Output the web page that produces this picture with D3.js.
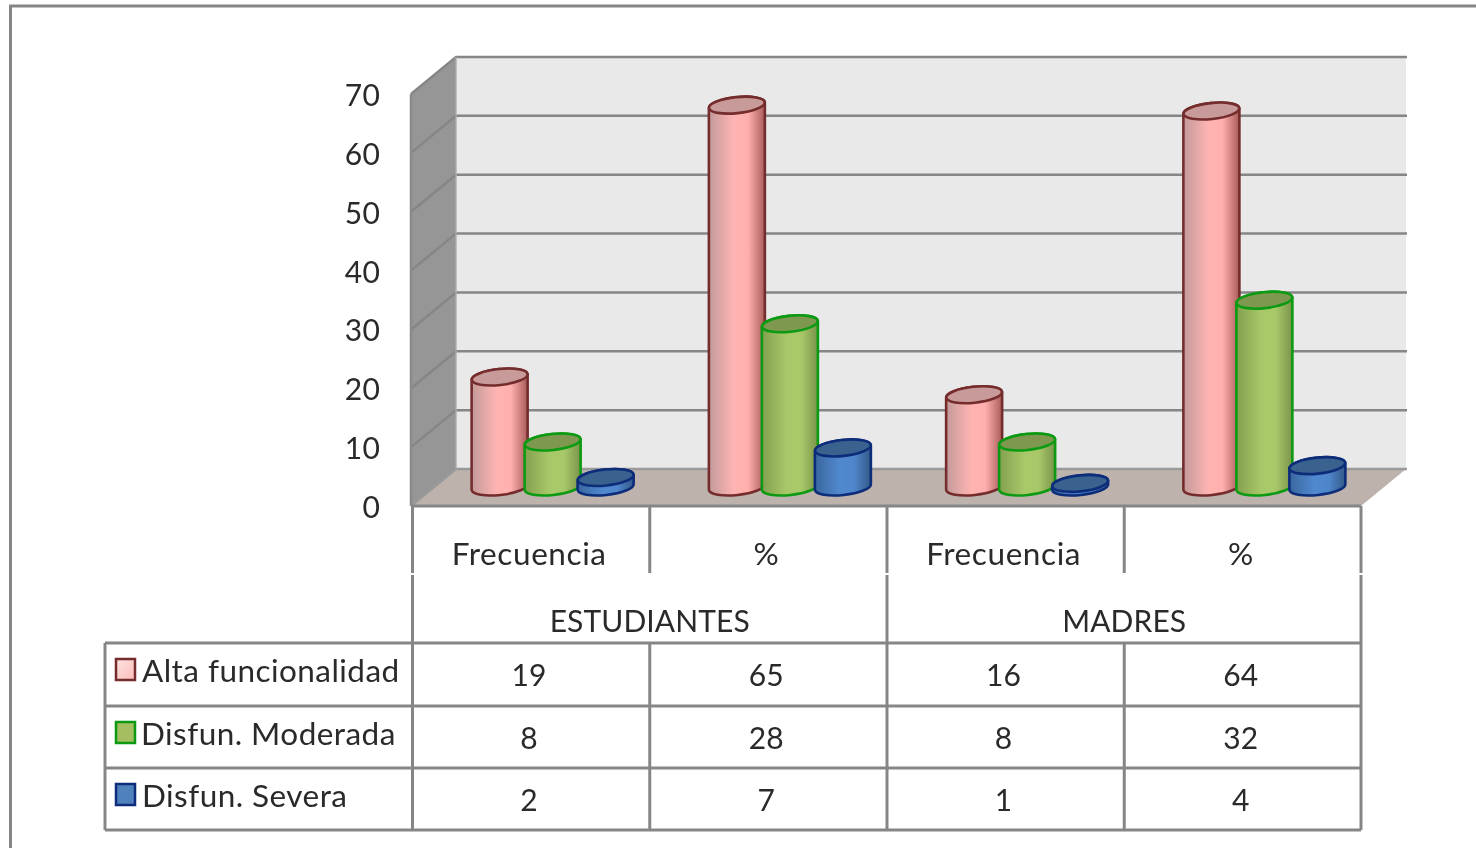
<!DOCTYPE html>
<html><head><meta charset="utf-8">
<script src="https://cdn.jsdelivr.net/npm/d3@7"></script>
<style>html,body{margin:0;padding:0;background:#fff;overflow:hidden}svg{display:block;filter:blur(.5px)}text{font-family:Lato,"Open Sans",sans-serif;fill:#2a2a2a}</style>
</head><body><svg id="c" width="1476" height="848"></svg>
<script>
const subCategories = ["Frecuencia","%","Frecuencia","%"];
const groups = ["ESTUDIANTES","MADRES"];
const seriesNames = ["Alta funcionalidad","Disfun. Moderada","Disfun. Severa"];
const altaValues = [19,65,16,64];
const moderadaValues = [8,28,8,32];
const severaValues = [2,7,1,4];
const tickValues = [0,10,20,30,40,50,60,70];

const allValues = [altaValues,moderadaValues,severaValues];
const palette = [
 {stroke:"#752c2c",top:"#c99a9a",a:"#c29a9a",b:"#ffb4b2",c:"#ffb0ae",d:"#a85c5a",sw:"#fbbcb9"},
 {stroke:"#0b9a12",top:"#7f9850",a:"#83a04f",b:"#a9c869",c:"#a9c869",d:"#7a944a",sw:"#a4bf62"},
 {stroke:"#0d2c7a",top:"#39628f",a:"#3a679e",b:"#5089cf",c:"#4f86cb",d:"#345a88",sw:"#4f81bd"}
];
const svg = d3.select("#c");
const W=1476,H=848;
const depthX=45, depthY=-37;
const front = d3.scaleLinear().domain([0,70]).range([506,94]);
const back = v => front(v)+depthY;
const xCols = d3.scaleBand().domain(d3.range(4)).range([412.5,1361.5]);
const xSeries = d3.scaleBand().domain(d3.range(3)).range([-79.5,79.5]);
const barY = d3.scaleLinear().domain([0,70]).range([489.3,75.6]);
const baseY = 487;
const grid="#868686";

const defs=svg.append("defs");
palette.forEach((p,i)=>{
  const g=defs.append("linearGradient").attr("id","g"+i);
  [[0,p.a],[.45,p.b],[.7,p.c],[1,p.d]].forEach(s=>g.append("stop").attr("offset",s[0]).attr("stop-color",s[1]));
  const l=defs.append("linearGradient").attr("id","l"+i).attr("x1",0).attr("y1",0).attr("x2",1).attr("y2",1);
  l.append("stop").attr("offset",0).attr("stop-color",i===0?"#fde3e1":p.sw);
  l.append("stop").attr("offset",1).attr("stop-color",p.sw);
});

svg.append("path").attr("d",`M10.5 ${H} V6 H${W}`).attr("fill","none").attr("stroke","#868686").attr("stroke-width",3);

const poly=(pts,fill)=>svg.append("polygon").attr("points",pts.map(p=>p.join(",")).join(" ")).attr("fill",fill);
const xL=412,xR=1361;
poly([[xL+depthX,back(70)],[xR+depthX,back(70)],[xR+depthX,back(0)],[xL+depthX,back(0)]],"#e9e9e9");
poly([[xL-1,front(70)],[xL+depthX-1,back(70)],[xL+depthX-1,back(0)],[xL,front(0)]],"#969696");
poly([[xL,front(0)],[xL+depthX,back(0)],[xR+depthX,back(0)],[xR,front(0)]],"#bdb2ac");

svg.append("g").selectAll("path").data(tickValues).join("path")
  .attr("d",v=>`M${xL-1} ${front(v)} L${xL+depthX-1} ${back(v)} H${xR+46}`)
  .attr("fill","none").attr("stroke",d=>d===0?"#9a9a9a":grid).attr("stroke-width",2.5);
svg.append("path").attr("d",`M${xL-1} ${front(0)} V${front(70)}`).attr("stroke","#8a8a8a").attr("stroke-width",2.5);
svg.append("path").attr("d",`M${xL+depthX-1} ${back(0)} V${back(70)}`).attr("stroke","#aaa").attr("stroke-width",1.5);

svg.append("g").selectAll("text").data(tickValues).join("text")
  .attr("x",380).attr("y",v=>front(v)+12).attr("text-anchor","end")
  .attr("font-size",30).attr("letter-spacing",".2").text(d=>d);

const R=28, RY=8, tilt=-6, dy=R*Math.tan(-tilt*Math.PI/180);
allValues.forEach((vals,s)=>{
  const g=svg.append("g");
  const cx=i=>xCols(i)+xCols.bandwidth()/2+21.5+xSeries(s)+xSeries.bandwidth()/2;
  g.selectAll("path.body").data(vals).join("path").attr("class","body")
    .attr("d",(v,i)=>{const c=cx(i),t=barY(v),b=baseY;
      return `M${c-R} ${t+dy} L${c-R} ${b+dy} A${R} ${RY} ${tilt} 0 0 ${c+R} ${b-dy} L${c+R} ${t-dy} A${R} ${RY} ${tilt} 0 0 ${c-R} ${t+dy}Z`;})
    .attr("fill",`url(#g${s})`).attr("stroke",palette[s].stroke).attr("stroke-width",2.6);
  g.selectAll("ellipse").data(vals).join("ellipse")
    .attr("transform",(v,i)=>`translate(${cx(i)},${barY(v)}) rotate(${tilt})`)
    .attr("rx",R).attr("ry",RY).attr("fill",palette[s].top).attr("stroke",palette[s].stroke).attr("stroke-width",2.6);
});

const rows=[643,706,768,830];
const colX=d=>xCols(d);
const tbl=svg.append("g").attr("stroke","#868686").attr("stroke-width",3).attr("fill","none");
const vl=(x,a,b)=>tbl.append("line").attr("x1",x).attr("x2",x).attr("y1",a).attr("y2",b);
const hl=(y,a,b)=>tbl.append("line").attr("y1",y).attr("y2",y).attr("x1",a).attr("x2",b);
hl(front(0),xL,xR);
[0,2,4].forEach(i=>{const x=i<4?colX(i):xR; vl(x,front(0),573); vl(x,575,rows[3]);});
[1,3].forEach(i=>{vl(colX(i),front(0),573); vl(colX(i),rows[0],rows[3]);});
rows.forEach(y=>hl(y,105,xR));
vl(105,rows[0],rows[3]);

const cellText=(x,y,t,size,anchor,ls)=>svg.append("text").attr("x",x).attr("y",y).attr("font-size",size).attr("text-anchor",anchor||"middle").attr("letter-spacing",ls===undefined?".3":ls).text(t);
subCategories.forEach((t,i)=>cellText(colX(i)+xCols.bandwidth()/2-2,565,t,31.5,"middle",".6"));
groups.forEach((t,i)=>cellText(colX(i*2)+xCols.bandwidth(),632,t,30,"middle",".1"));
allValues.forEach((vals,s)=>{
  vals.forEach((v,i)=>cellText(colX(i)+xCols.bandwidth()/2-2,rows[s]+43,v,30));
  const y=rows[s]+16;
  svg.append("rect").attr("x",116).attr("y",y).attr("width",19).attr("height",21).attr("fill",`url(#l${s})`).attr("stroke",palette[s].stroke).attr("stroke-width",2.5);
  cellText(s===1?141:142,rows[s]+39,seriesNames[s],31.5,"start",".45");
});
</script></body></html>
